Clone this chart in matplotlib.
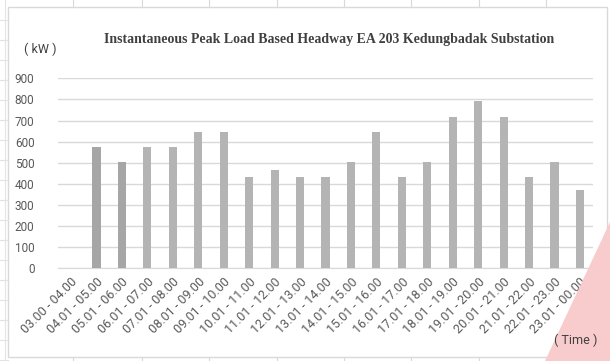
import matplotlib
matplotlib.use("Agg")
import matplotlib.pyplot as plt
from matplotlib.patches import Rectangle, Polygon
from matplotlib.lines import Line2D

categories = ["03.00 - 04.00", "04.01 - 05.00", "05.01 - 06.00", "06.01 - 07.00",
              "07.01 - 08.00", "08.01 - 09.00", "09.01 - 10.00", "10.01 - 11.00",
              "11.01 - 12.00", "12.01 - 13.00", "13.01 - 14.00", "14.01 - 15.00",
              "15.01 - 16.00", "16.01 - 17.00", "17.01 - 18.00", "18.01 - 19.00",
              "19.01 - 20.00", "20.01 - 21.00", "21.01 - 22.00", "22.01 - 23.00",
              "23.01 - 00.00"]
values = [0, 573, 503, 573, 573, 644, 644, 434, 468, 434, 434, 503, 644, 434, 503,
          718, 791, 718, 434, 503, 369]
yticks = [0, 100, 200, 300, 400, 500, 600, 700, 800, 900]

plt.rcParams["font.family"] = ["Roboto", "DejaVu Sans"]

W, H = 610, 361
fig = plt.figure(figsize=(W / 100, H / 100), dpi=100)
fig.patch.set_facecolor("white")

def fx(px):
    return px / W

def fy(py):
    return 1 - py / H

# spreadsheet background lines
for x in [73, 142, 209, 277, 344, 411, 479, 546]:
    fig.add_artist(Line2D([fx(x), fx(x)], [fy(0), fy(7)], color="#d9d9d9", lw=0.8))
    fig.add_artist(Line2D([fx(x), fx(x)], [fy(357), fy(361)], color="#d9d9d9", lw=0.8))
for y in range(20, 361, 20):
    fig.add_artist(Line2D([fx(0), fx(8)], [fy(y), fy(y)], color="#e3e3e3", lw=0.8))
fig.add_artist(Line2D([fx(5), fx(5)], [0, 1], color="#e3e3e3", lw=0.8))

# chart frame
fig.add_artist(Rectangle((fx(8), fy(357)), fx(607) - fx(8), fy(7) - fy(357),
                         fill=False, edgecolor="#d9d9d9", lw=1.0))

ax = fig.add_axes([fx(58), fy(268.3), fx(593) - fx(58), fy(78.3) - fy(268.3)])
x = list(range(len(categories)))
colors = ["#a6a6a6" if i < 3 else "#b4b4b4" for i in x]
ax.bar(x, values, width=0.32, color=colors, zorder=3)
ax.set_xlim(-0.51, len(categories) - 0.49)
ax.set_ylim(0, 900)
ax.set_yticks(yticks)
ax.set_yticklabels([str(v) for v in yticks], fontsize=8.5, color="#595959")
ax.set_xticks(x)
ax.set_xticklabels(categories, rotation=45, ha="right", va="top",
                   rotation_mode="anchor", fontsize=9, color="#595959")
ax.tick_params(axis="y", length=0, pad=17)
ax.tick_params(axis="x", length=0, pad=5)
ax.grid(axis="y", color="#d9d9d9", lw=1.0, zorder=0)
for s in ["top", "right", "left"]:
    ax.spines[s].set_visible(False)
ax.spines["bottom"].set_color("#d9d9d9")
ax.set_facecolor("none")

fig.text(fx(329), fy(40), "Instantaneous Peak Load Based Headway EA 203 Kedungbadak Substation",
         ha="center", va="center", fontsize=10, fontweight="bold",
         family="Liberation Serif", color="#404040")
fig.text(fx(40), fy(49), "( kW )", ha="center", va="center", fontsize=9, color="#404040")

# pink corner triangle
fig.add_artist(Polygon([(fx(610), fy(222)), (fx(610), fy(361)), (fx(545), fy(361))],
                       closed=True, facecolor="#f8cbcd", edgecolor="none", zorder=5))
fig.text(fx(576), fy(340), "( Time )", ha="center", va="center", fontsize=9,
         color="#404040", zorder=6)

fig.savefig("out.png", dpi=100, facecolor="white")
